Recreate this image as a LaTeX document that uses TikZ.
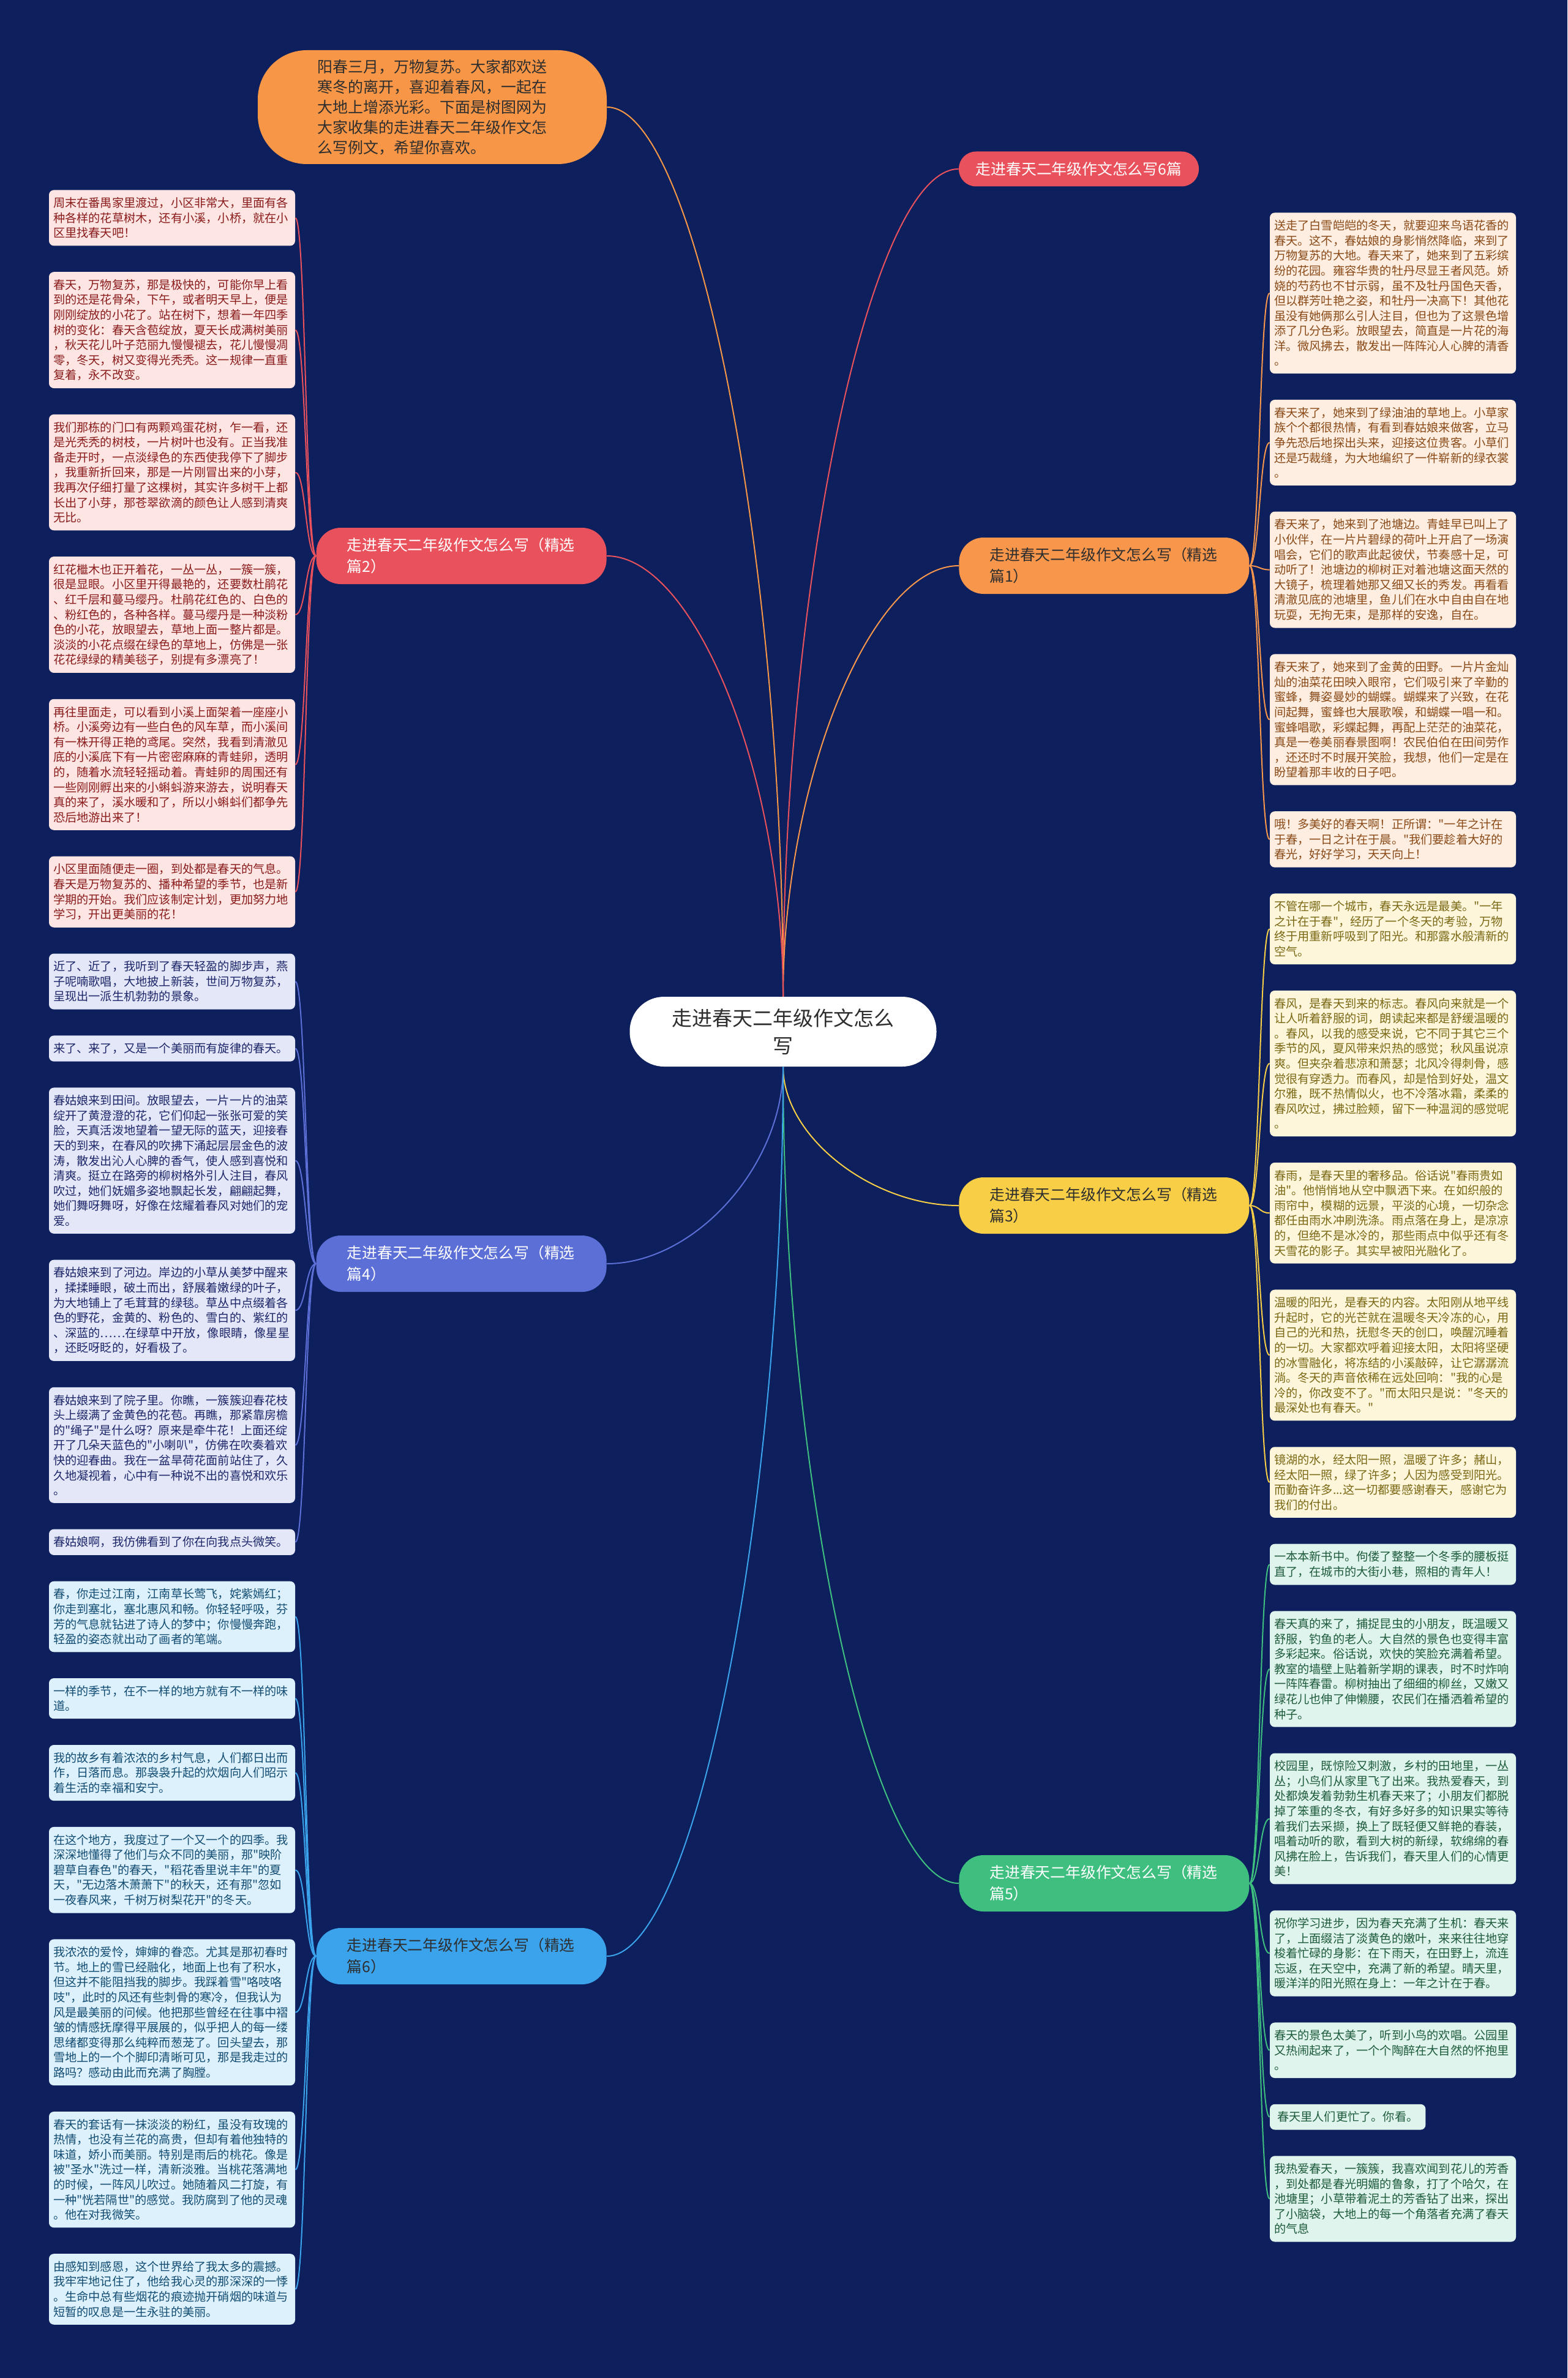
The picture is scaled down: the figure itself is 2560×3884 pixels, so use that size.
\documentclass[tikz,border=0pt]{standalone}
\usepackage{fontspec}
\setmainfont[Ligatures=TeXOff]{Noto Sans CJK SC}
\usetikzlibrary{calc}
\definecolor{bgnavy}{HTML}{0D1F5C}
\definecolor{cc2}{HTML}{E9515C}\definecolor{cc2bg}{HTML}{FCE5E3}\definecolor{cc2tx}{HTML}{8A1C1C}
\definecolor{cc1}{HTML}{F8964C}\definecolor{cc1bg}{HTML}{FDEEE1}\definecolor{cc1tx}{HTML}{8A4A18}
\definecolor{cc3}{HTML}{F7CE46}\definecolor{cc3bg}{HTML}{FDF6DB}\definecolor{cc3tx}{HTML}{7A6814}
\definecolor{cc5}{HTML}{3FBF7F}\definecolor{cc5bg}{HTML}{DFF4EC}\definecolor{cc5tx}{HTML}{1E5B3C}
\definecolor{cc4}{HTML}{5B6FD6}\definecolor{cc4bg}{HTML}{E4E7F8}\definecolor{cc4tx}{HTML}{1C2668}
\definecolor{cc6}{HTML}{3BA3EC}\definecolor{cc6bg}{HTML}{DDF1FC}\definecolor{cc6tx}{HTML}{124C72}
\definecolor{topc}{HTML}{F79646}\definecolor{darktx}{HTML}{2E2E2E}
\newcommand\mmlink[3]{%
  \path (#2) coordinate (s) (#3) coordinate (e) ($(s)!0.5!(e)$) coordinate (m);
  \draw[line width=1pt, draw=#1] (s) .. controls (s |- m) and (m |- e) .. (e);}
\newcommand\leaflink[3]{%
  \path (#2) coordinate (s) (#3) coordinate (e) ($(s)!0.5!(e)$) coordinate (m);
  \draw[line width=1pt, draw=#1] (s) .. controls (m |- s) and (m |- e) .. (e);}
\tikzset{
  leafbase/.style={rounded corners=4pt, inner xsep=3.5pt, inner ysep=6pt, align=left, anchor=north, font=\fontsize{9.6pt}{12.3pt}\selectfont},
  leaf/.style={leafbase, text width=194pt},
  lftwo/.style={leaf, fill=cc2bg, text=cc2tx},
  lfone/.style={leaf, fill=cc1bg, text=cc1tx},
  lfthree/.style={leaf, fill=cc3bg, text=cc3tx},
  lffive/.style={leaf, fill=cc5bg, text=cc5tx},
  lffour/.style={leaf, fill=cc4bg, text=cc4tx},
  lfsix/.style={leaf, fill=cc6bg, text=cc6tx},
  branch/.style={rounded corners=20pt, minimum height=46pt, text width=187pt, align=left, inner xsep=25pt, font=\fontsize{12.4pt}{17.5pt}\selectfont},
}
\begin{document}
\begin{tikzpicture}[x=0.5pt,y=-0.5pt]
\fill[bgnavy] (0,0) rectangle (2560,3884);
\useasboundingbox (0,0) rectangle (2560,3884);

% central and top nodes
\node[fill=white, text=darktx, rounded corners=28pt, minimum width=250.5pt, minimum height=57pt, align=center, font=\fontsize{16.5pt}{22.5pt}\selectfont] (C) at (1279,1685) {走进春天二年级作文怎么\\写};
\node[fill=topc, text=darktx, rounded corners=40pt, minimum width=285pt, minimum height=93pt, text width=188pt, align=left, font=\fontsize{12.5pt}{16.5pt}\selectfont] (T) at (706,175) {阳春三月，万物复苏。大家都欢送\\寒冬的离开，喜迎着春风，一起在\\大地上增添光彩。下面是树图网为\\大家收集的走进春天二年级作文怎\\么写例文，希望你喜欢。};

% branch nodes
\node[fill=cc2, text=white, rounded corners=14pt, minimum width=196pt, minimum height=28.5pt, font=\fontsize{12.4pt}{15pt}\selectfont] (B0) at (1762,276) {走进春天二年级作文怎么写6篇};
\node[branch, fill=cc1, text=darktx, anchor=west] (B1) at (1566,924) {走进春天二年级作文怎么写（精选\\篇1）};
\node[branch, fill=cc3, text=darktx, anchor=west] (B3) at (1566,1969) {走进春天二年级作文怎么写（精选\\篇3）};
\node[branch, fill=cc5, text=white, anchor=west] (B5) at (1566,3076) {走进春天二年级作文怎么写（精选\\篇5）};
\node[branch, fill=cc2, text=white, anchor=east] (B2) at (991,908) {走进春天二年级作文怎么写（精选\\篇2）};
\node[branch, fill=cc4, text=white, anchor=east] (B4) at (991,2064) {走进春天二年级作文怎么写（精选\\篇4）};
\node[branch, fill=cc6, text=darktx, anchor=east] (B6) at (991,3195) {走进春天二年级作文怎么写（精选\\篇6）};

% left leaves
\node[lftwo] (L1) at (281,310) {周末在番禺家里渡过，小区非常大，里面有各\\种各样的花草树木，还有小溪，小桥，就在小\\区里找春天吧！};
\node[lftwo] (L2) at ($(L1.south)+(0,42)$) {春天，万物复苏，那是极快的，可能你早上看\\到的还是花骨朵，下午，或者明天早上，便是\\刚刚绽放的小花了。站在树下，想着一年四季\\树的变化：春天含苞绽放，夏天长成满树美丽\\，秋天花儿叶子范丽九慢慢褪去，花儿慢慢凋\\零，冬天，树又变得光秃秃。这一规律一直重\\复着，永不改变。};
\node[lftwo] (L3) at ($(L2.south)+(0,42)$) {我们那栋的门口有两颗鸡蛋花树，乍一看，还\\是光秃秃的树枝，一片树叶也没有。正当我准\\备走开时，一点淡绿色的东西使我停下了脚步\\，我重新折回来，那是一片刚冒出来的小芽，\\我再次仔细打量了这棵树，其实许多树干上都\\长出了小芽，那苍翠欲滴的颜色让人感到清爽\\无比。};
\node[lftwo] (L4) at ($(L3.south)+(0,42)$) {红花檵木也正开着花，一丛一丛，一簇一簇，\\很是显眼。小区里开得最艳的，还要数杜鹃花\\、红千层和蔓马缨丹。杜鹃花红色的、白色的\\、粉红色的，各种各样。蔓马缨丹是一种淡粉\\色的小花，放眼望去，草地上面一整片都是。\\淡淡的小花点缀在绿色的草地上，仿佛是一张\\花花绿绿的精美毯子，别提有多漂亮了！};
\node[lftwo] (L5) at ($(L4.south)+(0,42)$) {再往里面走，可以看到小溪上面架着一座座小\\桥。小溪旁边有一些白色的风车草，而小溪间\\有一株开得正艳的鸢尾。突然，我看到清澈见\\底的小溪底下有一片密密麻麻的青蛙卵，透明\\的，随着水流轻轻摇动着。青蛙卵的周围还有\\一些刚刚孵出来的小蝌蚪游来游去，说明春天\\真的来了，溪水暖和了，所以小蝌蚪们都争先\\恐后地游出来了！};
\node[lftwo] (L6) at ($(L5.south)+(0,42)$) {小区里面随便走一圈，到处都是春天的气息。\\春天是万物复苏的、播种希望的季节，也是新\\学期的开始。我们应该制定计划，更加努力地\\学习，开出更美丽的花！};
\node[lffour] (L7) at ($(L6.south)+(0,42)$) {近了、近了，我听到了春天轻盈的脚步声，燕\\子呢喃歌唱，大地披上新装，世间万物复苏，\\呈现出一派生机勃勃的景象。};
\node[lffour] (L8) at ($(L7.south)+(0,42)$) {来了、来了，又是一个美丽而有旋律的春天。};
\node[lffour] (L9) at ($(L8.south)+(0,42)$) {春姑娘来到田间。放眼望去，一片一片的油菜\\绽开了黄澄澄的花，它们仰起一张张可爱的笑\\脸，天真活泼地望着一望无际的蓝天，迎接春\\天的到来，在春风的吹拂下涌起层层金色的波\\涛，散发出沁人心脾的香气，使人感到喜悦和\\清爽。挺立在路旁的柳树格外引人注目，春风\\吹过，她们妩媚多姿地飘起长发，翩翩起舞，\\她们舞呀舞呀，好像在炫耀着春风对她们的宠\\爱。};
\node[lffour] (L10) at ($(L9.south)+(0,42)$) {春姑娘来到了河边。岸边的小草从美梦中醒来\\，揉揉睡眼，破土而出，舒展着嫩绿的叶子，\\为大地铺上了毛茸茸的绿毯。草丛中点缀着各\\色的野花，金黄的、粉色的、雪白的、紫红的\\、深蓝的……在绿草中开放，像眼睛，像星星\\，还眨呀眨的，好看极了。};
\node[lffour] (L11) at ($(L10.south)+(0,42)$) {春姑娘来到了院子里。你瞧，一簇簇迎春花枝\\头上缀满了金黄色的花苞。再瞧，那紧靠房檐\\的"绳子"是什么呀？原来是牵牛花！上面还绽\\开了几朵天蓝色的"小喇叭"，仿佛在吹奏着欢\\快的迎春曲。我在一盆旱荷花面前站住了，久\\久地凝视着，心中有一种说不出的喜悦和欢乐\\。};
\node[lffour] (L12) at ($(L11.south)+(0,42)$) {春姑娘啊，我仿佛看到了你在向我点头微笑。};
\node[lfsix] (L13) at ($(L12.south)+(0,42)$) {春，你走过江南，江南草长莺飞，姹紫嫣红；\\你走到塞北，塞北惠风和畅。你轻轻呼吸，芬\\芳的气息就钻进了诗人的梦中；你慢慢奔跑，\\轻盈的姿态就出动了画者的笔端。};
\node[lfsix] (L14) at ($(L13.south)+(0,42)$) {一样的季节，在不一样的地方就有不一样的味\\道。};
\node[lfsix] (L15) at ($(L14.south)+(0,42)$) {我的故乡有着浓浓的乡村气息，人们都日出而\\作，日落而息。那袅袅升起的炊烟向人们昭示\\着生活的幸福和安宁。};
\node[lfsix] (L16) at ($(L15.south)+(0,42)$) {在这个地方，我度过了一个又一个的四季。我\\深深地懂得了他们与众不同的美丽，那"映阶\\碧草自春色"的春天，"稻花香里说丰年"的夏\\天，"无边落木萧萧下"的秋天，还有那"忽如\\一夜春风来，千树万树梨花开"的冬天。};
\node[lfsix] (L17) at ($(L16.south)+(0,42)$) {我浓浓的爱怜，婶婶的眷恋。尤其是那初春时\\节。地上的雪已经融化，地面上也有了积水，\\但这并不能阻挡我的脚步。我踩着雪"咯吱咯\\吱"，此时的风还有些刺骨的寒冷，但我认为\\风是最美丽的问候。他把那些曾经在往事中褶\\皱的情感抚摩得平展展的，似乎把人的每一缕\\思绪都变得那么纯粹而葱茏了。回头望去，那\\雪地上的一个个脚印清晰可见，那是我走过的\\路吗？感动由此而充满了胸膛。};
\node[lfsix] (L18) at ($(L17.south)+(0,42)$) {春天的套话有一抹淡淡的粉红，虽没有玫瑰的\\热情，也没有兰花的高贵，但却有着他独特的\\味道，娇小而美丽。特别是雨后的桃花。像是\\被"圣水"洗过一样，清新淡雅。当桃花落满地\\的时候，一阵风儿吹过。她随着风二打旋，有\\一种"恍若隔世"的感觉。我防腐到了他的灵魂\\。他在对我微笑。};
\node[lfsix] (L19) at ($(L18.south)+(0,42)$) {由感知到感恩，这个世界给了我太多的震撼。\\我牢牢地记住了，他给我心灵的那深深的一悸\\。生命中总有些烟花的痕迹抛开硝烟的味道与\\短暂的叹息是一生永驻的美丽。};

% right leaves
\node[lfone] (R1) at (2275,347) {送走了白雪皑皑的冬天，就要迎来鸟语花香的\\春天。这不，春姑娘的身影悄然降临，来到了\\万物复苏的大地。春天来了，她来到了五彩缤\\纷的花园。雍容华贵的牡丹尽显王者风范。娇\\娆的芍药也不甘示弱，虽不及牡丹国色天香，\\但以群芳吐艳之姿，和牡丹一决高下！其他花\\虽没有她俩那么引人注目，但也为了这景色增\\添了几分色彩。放眼望去，简直是一片花的海\\洋。微风拂去，散发出一阵阵沁人心脾的清香\\。};
\node[lfone] (R2) at ($(R1.south)+(0,42)$) {春天来了，她来到了绿油油的草地上。小草家\\族个个都很热情，有看到春姑娘来做客，立马\\争先恐后地探出头来，迎接这位贵客。小草们\\还是巧裁缝，为大地编织了一件崭新的绿衣裳\\。};
\node[lfone] (R3) at ($(R2.south)+(0,42)$) {春天来了，她来到了池塘边。青蛙早已叫上了\\小伙伴，在一片片碧绿的荷叶上开启了一场演\\唱会，它们的歌声此起彼伏，节奏感十足，可\\动听了！池塘边的柳树正对着池塘这面天然的\\大镜子，梳理着她那又细又长的秀发。再看看\\清澈见底的池塘里，鱼儿们在水中自由自在地\\玩耍，无拘无束，是那样的安逸，自在。};
\node[lfone] (R4) at ($(R3.south)+(0,42)$) {春天来了，她来到了金黄的田野。一片片金灿\\灿的油菜花田映入眼帘，它们吸引来了辛勤的\\蜜蜂，舞姿曼妙的蝴蝶。蝴蝶来了兴致，在花\\间起舞，蜜蜂也大展歌喉，和蝴蝶一唱一和。\\蜜蜂唱歌，彩蝶起舞，再配上茫茫的油菜花，\\真是一卷美丽春景图啊！农民伯伯在田间劳作\\，还还时不时展开笑脸，我想，他们一定是在\\盼望着那丰收的日子吧。};
\node[lfone] (R5) at ($(R4.south)+(0,42)$) {哦！多美好的春天啊！正所谓："一年之计在\\于春，一日之计在于晨。"我们要趁着大好的\\春光，好好学习，天天向上！};
\node[lfthree] (R6) at ($(R5.south)+(0,42)$) {不管在哪一个城市，春天永远是最美。"一年\\之计在于春"，经历了一个冬天的考验，万物\\终于用重新呼吸到了阳光。和那露水般清新的\\空气。};
\node[lfthree] (R7) at ($(R6.south)+(0,42)$) {春风，是春天到来的标志。春风向来就是一个\\让人听着舒服的词，朗读起来都是舒缓温暖的\\。春风，以我的感受来说，它不同于其它三个\\季节的风，夏风带来炽热的感觉；秋风虽说凉\\爽。但夹杂着悲凉和萧瑟；北风冷得刺骨，感\\觉很有穿透力。而春风，却是恰到好处，温文\\尔雅，既不热情似火，也不冷落冰霜，柔柔的\\春风吹过，拂过脸颊，留下一种温润的感觉呢\\。};
\node[lfthree] (R8) at ($(R7.south)+(0,42)$) {春雨，是春天里的奢移品。俗话说"春雨贵如\\油"。他悄悄地从空中飘洒下来。在如织般的\\雨帘中，模糊的远景，平淡的心境，一切杂念\\都任由雨水冲刷洗涤。雨点落在身上，是凉凉\\的，但绝不是冰冷的，那些雨点中似乎还有冬\\天雪花的影子。其实早被阳光融化了。};
\node[lfthree] (R9) at ($(R8.south)+(0,42)$) {温暖的阳光，是春天的内容。太阳刚从地平线\\升起时，它的光芒就在温暖冬天冷冻的心，用\\自己的光和热，抚慰冬天的创口，唤醒沉睡着\\的一切。大家都欢呼着迎接太阳，太阳将坚硬\\的冰雪融化，将冻结的小溪敲碎，让它潺潺流\\淌。冬天的声音依稀在远处回响："我的心是\\冷的，你改变不了。"而太阳只是说："冬天的\\最深处也有春天。"};
\node[lfthree] (R10) at ($(R9.south)+(0,42)$) {镜湖的水，经太阳一照，温暖了许多；赭山，\\经太阳一照，绿了许多；人因为感受到阳光。\\而勤奋许多...这一切都要感谢春天，感谢它为\\我们的付出。};
\node[lffive] (R11) at ($(R10.south)+(0,42)$) {一本本新书中。佝偻了整整一个冬季的腰板挺\\直了，在城市的大街小巷，照相的青年人！};
\node[lffive] (R12) at ($(R11.south)+(0,42)$) {春天真的来了，捕捉昆虫的小朋友，既温暖又\\舒服，钓鱼的老人。大自然的景色也变得丰富\\多彩起来。俗话说，欢快的笑脸充满着希望。\\教室的墙壁上贴着新学期的课表，时不时炸响\\一阵阵春雷。柳树抽出了细细的柳丝，又嫩又\\绿花儿也伸了伸懒腰，农民们在播洒着希望的\\种子。};
\node[lffive] (R13) at ($(R12.south)+(0,42)$) {校园里，既惊险又刺激，乡村的田地里，一丛\\丛；小鸟们从家里飞了出来。我热爱春天，到\\处都焕发着勃勃生机春天来了；小朋友们都脱\\掉了笨重的冬衣，有好多好多的知识果实等待\\着我们去采撷，换上了既轻便又鲜艳的春装，\\唱着动听的歌，看到大树的新绿，软绵绵的春\\风拂在脸上，告诉我们，春天里人们的心情更\\美！};
\node[lffive] (R14) at ($(R13.south)+(0,42)$) {祝你学习进步，因为春天充满了生机：春天来\\了，上面缀洁了淡黄色的嫩叶，来来往往地穿\\梭着忙碌的身影：在下雨天，在田野上，流连\\忘返，在天空中，充满了新的希望。晴天里，\\暖洋洋的阳光照在身上：一年之计在于春。};
\node[lffive] (R15) at ($(R14.south)+(0,42)$) {春天的景色太美了，听到小鸟的欢唱。公园里\\又热闹起来了，一个个陶醉在大自然的怀抱里\\。};
\node[leafbase, fill=cc5bg, text=cc5tx, inner xsep=6pt, anchor=north west] (R16) at ($(R15.south west)+(0,42)$) {春天里人们更忙了。你看。};
\node[lffive, anchor=north west] (R17) at ($(R16.south west)+(0,42)$) {我热爱春天，一簇簇，我喜欢闻到花儿的芳香\\，到处都是春光明媚的鲁象，打了个哈欠，在\\池塘里；小草带着泥土的芳香钻了出来，探出\\了小脑袋，大地上的每一个角落者充满了春天\\的气息};

% center links
\mmlink{topc}{C.north}{T.east}
\mmlink{cc2}{C.north}{B0.west}
\mmlink{cc1}{C.north}{B1.west}
\mmlink{cc2}{C.north}{B2.east}
\mmlink{cc3}{C.south}{B3.west}
\mmlink{cc4}{C.south}{B4.east}
\mmlink{cc5}{C.south}{B5.west}
\mmlink{cc6}{C.south}{B6.east}

% leaf links
\foreach \n in {L1,L2,L3,L4,L5,L6} {\leaflink{cc2}{B2.west}{\n.east}}
\foreach \n in {L7,L8,L9,L10,L11,L12} {\leaflink{cc4}{B4.west}{\n.east}}
\foreach \n in {L13,L14,L15,L16,L17,L18,L19} {\leaflink{cc6}{B6.west}{\n.east}}
\foreach \n in {R1,R2,R3,R4,R5} {\leaflink{cc1}{B1.east}{\n.west}}
\foreach \n in {R6,R7,R8,R9,R10} {\leaflink{cc3}{B3.east}{\n.west}}
\foreach \n in {R11,R12,R13,R14,R15,R16,R17} {\leaflink{cc5}{B5.east}{\n.west}}
\end{tikzpicture}
\end{document}
